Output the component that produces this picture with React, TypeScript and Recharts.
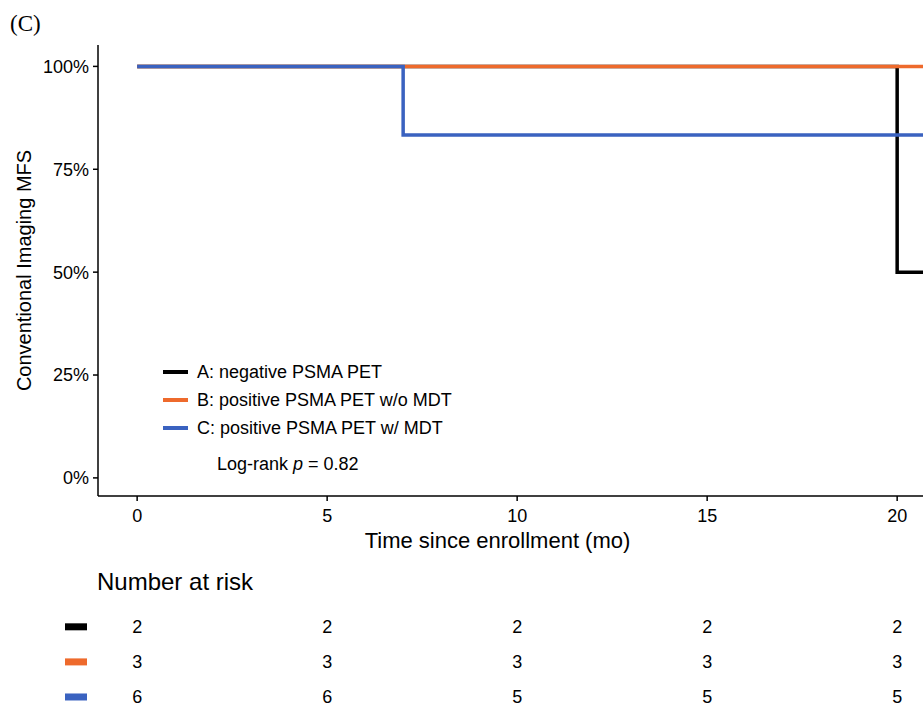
import { LineChart, Line, XAxis, YAxis, Legend, ScatterChart, Scatter } from 'recharts';

// survival curves (time in months, survival in %)
const TIME_A = [0, 20, 21];
const SURV_A = [100, 50, 50];
const TIME_B = [0, 21];
const SURV_B = [100, 100];
const TIME_C = [0, 7, 21];
const SURV_C = [100, 83.33, 83.33];

const NAMES = ['A: negative PSMA PET', 'B: positive PSMA PET w/o MDT', 'C: positive PSMA PET w/ MDT'];
const COLORS = ['#000000', '#EE6A2C', '#3A62C0'];

const X_TICKS = [0, 5, 10, 15, 20];
const Y_TICKS = [0, 25, 50, 75, 100];

// number at risk
const RISK_TIMES = [0, 5, 10, 15, 20];
const RISK_A = [2, 2, 2, 2, 2];
const RISK_B = [3, 3, 3, 3, 3];
const RISK_C = [6, 6, 5, 5, 5];

const toPoints = (ts: number[], ss: number[]) => ts.map((t, i) => ({ t, s: ss[i] }));
const SERIES = [
  { name: NAMES[0], color: COLORS[0], data: toPoints(TIME_A, SURV_A) },
  { name: NAMES[1], color: COLORS[1], data: toPoints(TIME_B, SURV_B) },
  { name: NAMES[2], color: COLORS[2], data: toPoints(TIME_C, SURV_C) },
];

const RISK_ROWS = [RISK_A, RISK_B, RISK_C].map((vals, r) =>
  RISK_TIMES.map((t, i) => ({ t, row: 3 - r, n: vals[i] }))
);

const FONT = '"Liberation Sans", Arial, Helvetica, sans-serif';
const X_DOMAIN: [number, number] = [-1.03, 20.68];

function LegendBox() {
  return (
    <div style={{ fontFamily: FONT, fontSize: 18, color: '#000' }}>
      {SERIES.map((s) => (
        <div key={s.name} style={{ display: 'flex', alignItems: 'center', height: 28, whiteSpace: 'nowrap' }}>
          <span style={{ display: 'inline-block', width: 25, height: 4, background: s.color, marginRight: 9 }} />
          {s.name}
        </div>
      ))}
      <div style={{ display: 'flex', alignItems: 'center', height: 28, marginTop: 8, paddingLeft: 54, whiteSpace: 'nowrap' }}>
        Log-rank&nbsp;<i>p</i>&nbsp;= 0.82
      </div>
    </div>
  );
}

function RiskSwatch(props: any) {
  const { y, payload } = props;
  const color = COLORS[3 - payload.value];
  return <rect x={65} y={y - 3.5} width={22} height={7} fill={color} />;
}

function RiskNumber(props: any) {
  const { cx, cy, payload } = props;
  return (
    <text x={cx} y={cy} textAnchor="middle" dominantBaseline="central" fontSize={18} fontFamily={FONT} fill="#000">
      {payload.n}
    </text>
  );
}

export default function App() {
  return (
    <div style={{ position: 'absolute', left: 0, top: 0, width: 923, height: 707, background: '#fff', overflow: 'hidden', fontFamily: FONT }}>
      <div style={{ position: 'absolute', left: 10, top: 11, fontFamily: '"Liberation Serif", "Times New Roman", serif', fontSize: 23 }}>
        (C)
      </div>

      <LineChart width={923} height={560} margin={{ top: 45, right: 0, bottom: 0, left: 0 }}>
        <XAxis
          dataKey="t"
          type="number"
          domain={X_DOMAIN}
          allowDataOverflow
          ticks={X_TICKS}
          height={64}
          stroke="#000"
          strokeWidth={1.5}
          tickSize={5}
          tickMargin={8}
          tick={{ fill: '#000', fontSize: 18, fontFamily: FONT }}
          label={{ value: 'Time since enrollment (mo)', position: 'insideBottom', offset: 12, dx: -13, fill: '#000', fontSize: 22, fontFamily: FONT }}
        />
        <YAxis
          type="number"
          domain={[-4.4, 105.2]}
          allowDataOverflow
          ticks={Y_TICKS}
          width={98}
          stroke="#000"
          strokeWidth={1.5}
          tickSize={5}
          tickMargin={4}
          tickFormatter={(v) => `${v}%`}
          tick={{ fill: '#000', fontSize: 18, fontFamily: FONT }}
          label={({ viewBox }: any) => {
            const cy = viewBox.y + viewBox.height / 2;
            return (
              <text x={31} y={cy} transform={`rotate(-90, 31, ${cy})`} textAnchor="middle" fontSize={20} fontFamily={FONT} fill="#000">
                Conventional Imaging MFS
              </text>
            );
          }}
        />
        {SERIES.map((s) => (
          <Line
            key={s.name}
            data={s.data}
            dataKey="s"
            name={s.name}
            type="stepAfter"
            stroke={s.color}
            strokeWidth={3.5}
            dot={false}
            activeDot={false}
            isAnimationActive={false}
          />
        ))}
        <Legend
          layout="vertical"
          align="center"
          verticalAlign="middle"
          content={() => <LegendBox />}
          wrapperStyle={{ left: 163, top: 358, width: 'auto' }}
        />
      </LineChart>

      <div style={{ position: 'absolute', left: 97, top: 568, fontSize: 24, color: '#000', whiteSpace: 'nowrap' }}>
        Number at risk
      </div>

      <div style={{ position: 'absolute', left: 0, top: 560 }}>
        <ScatterChart width={923} height={147} margin={{ top: 59.8, right: 0, bottom: 3, left: 0 }}>
          <XAxis dataKey="t" type="number" domain={X_DOMAIN} allowDataOverflow hide />
          <YAxis
            dataKey="row"
            type="number"
            domain={[0.8, 3.2]}
            ticks={[1, 2, 3]}
            interval={0}
            width={98}
            axisLine={false}
            tickLine={false}
            tick={<RiskSwatch />}
          />
          {RISK_ROWS.map((rows, i) => (
            <Scatter key={i} data={rows} shape={<RiskNumber />} isAnimationActive={false} />
          ))}
        </ScatterChart>
      </div>
    </div>
  );
}
